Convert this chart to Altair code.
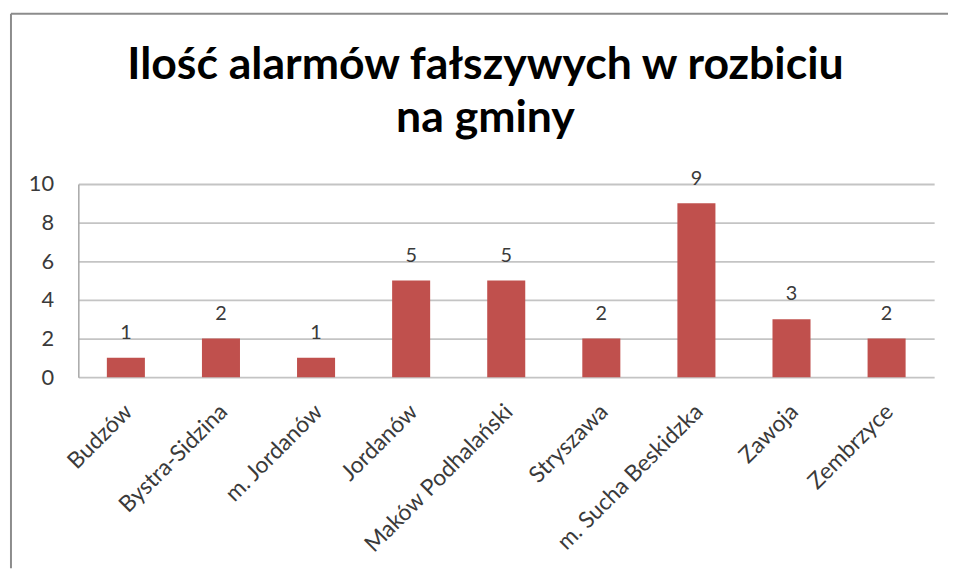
import altair as alt
import pandas as pd

gminy = ["Budzów", "Bystra-Sidzina", "m. Jordanów", "Jordanów", "Maków Podhalański",
         "Stryszawa", "m. Sucha Beskidzka", "Zawoja", "Zembrzyce"]
alarmy = [1, 2, 1, 5, 5, 2, 9, 3, 2]
y_ticks = [0, 2, 4, 6, 8, 10]

df = pd.DataFrame({"gmina": gminy, "alarmy": alarmy})
FONT = "Lato"

x_scale = alt.Scale(paddingInner=0.6, paddingOuter=0.3)
y_scale = alt.Scale(domain=[0, 10], nice=False)

x_axis = alt.Axis(labelAngle=-45, labelAlign="right", labelBaseline="middle",
                  labelPadding=31, labelOffset=3, ticks=False, domain=False,
                  labelFontSize=23, labelColor="#3a3a3a", labelFont=FONT,
                  labelOverlap=False, labelLimit=400)
y_axis = alt.Axis(values=y_ticks, ticks=False, domain=True,
                  domainColor="#a6a6a6", domainWidth=1.5, grid=True,
                  gridColor="#c4c4c4", gridWidth=1.8, labelPadding=25,
                  labelFontSize=22, labelColor="#3a3a3a", labelFont=FONT,
                  labelOverlap=False)

x_enc = alt.X("gmina:N", sort=gminy, title=None, scale=x_scale, axis=x_axis)
y_enc = alt.Y("alarmy:Q", title=None, scale=y_scale, axis=y_axis)

base = alt.Chart(df)
bars = base.mark_bar(color="#C0504D").encode(x=x_enc, y=y_enc)
labels = base.mark_text(baseline="alphabetic", dy=-19, fontSize=20, font=FONT,
                        color="#3a3a3a").encode(x=x_enc, y=y_enc, text="alarmy:Q")

frame_df = pd.DataFrame({"f": [0]})
top_rule = alt.Chart(frame_df).mark_rule(color="#8c8c8c", strokeWidth=2).encode(
    x=alt.value(-68), x2=alt.value(878), y=alt.value(-172))
left_rule = alt.Chart(frame_df).mark_rule(color="#8c8c8c", strokeWidth=2).encode(
    x=alt.value(-68), y=alt.value(-172), y2=alt.value(388))

chart = alt.layer(bars, labels, top_rule, left_rule).properties(
    width=864, height=195,
    title=alt.Title(["Ilość alarmów fałszywych w rozbiciu", "na gminy"],
                    fontSize=45, font=FONT, fontWeight="bold", color="#000000",
                    lineHeight=53, offset=-129, anchor="middle", dx=-21),
    padding={"left": 2, "top": 2, "right": 0, "bottom": 0},
).configure_view(stroke=None)

chart.save("out.html", embed_options={"renderer": "svg", "actions": False})
